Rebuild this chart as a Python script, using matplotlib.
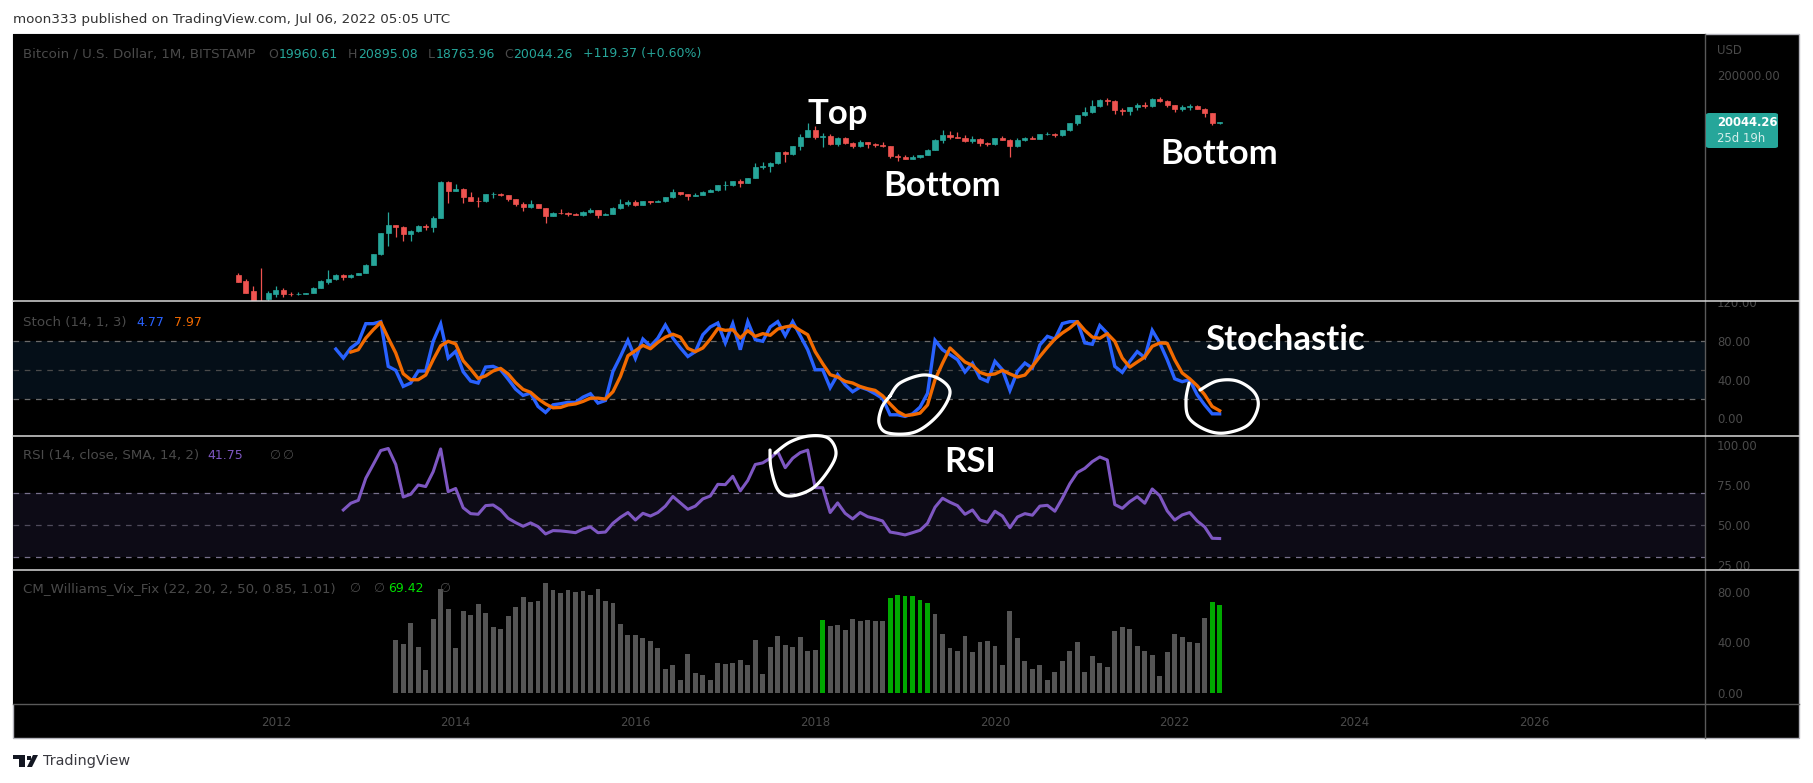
#!/bin/env python

# BTC monthly chart with Stoch / RSI / Vix Fix panes, TradingView dark look

import numpy as np
import matplotlib
matplotlib.use('Agg')
import matplotlib.pyplot as plt
from matplotlib.lines import Line2D
from matplotlib.patches import Rectangle, Polygon, FancyBboxPatch

# Data #########################################################################

# monthly candles, first bar is Aug 2011
opens = [12.4, 9.2, 5.8, 3.4, 3.8,
         5.0, 5.9, 4.9, 4.9, 5.0, 5.15, 6.7, 9.0, 10.2, 12.4, 11.0, 12.6,
         13.5, 20.4, 33.4, 93, 139, 129, 90, 106, 135, 127, 198, 1120,
         732, 800, 550, 450, 445, 630, 640, 585, 480, 388, 338, 378,
         320, 217, 254, 244, 236, 230, 263, 284, 230, 236, 314, 377,
         430, 368, 437, 416, 448, 531, 673, 624, 573, 608, 700, 745,
         966, 970, 1190, 1080, 1348, 2300, 2480, 2870, 4700, 4340, 6440, 9950,
         13800, 10100, 10300, 6930, 9240, 7490, 6400, 7730, 7010, 6620, 6300, 4020,
         3740, 3440, 3800, 4100, 5260, 8570, 10800, 10080, 9590, 8290, 9150, 7560,
         7190, 9350, 8530, 6420, 8640, 9450, 9140, 11330, 11650, 10780, 13800, 19700,
         28950, 33100, 45200, 58800, 57700, 37300, 35000, 41500, 47100, 43800, 61300, 57000,
         46200, 38500, 43200, 45500, 37700, 31800, 19960.61]
highs = [13.3, 10.1, 7.2, 17, 5.6,
         7.4, 6.7, 5.3, 5.4, 5.2, 6.8, 9.8, 16, 12.9, 13.2, 13, 13.9,
         21, 34, 95, 266, 140, 130, 110, 138, 145, 215, 1163, 1160,
         1000, 830, 700, 540, 630, 680, 660, 600, 490, 415, 460, 390,
         320, 265, 300, 262, 247, 268, 318, 285, 247, 334, 502, 465,
         462, 448, 445, 470, 545, 780, 700, 625, 660, 730, 780, 980,
         1150, 1200, 1290, 1350, 2770, 3000, 2920, 4800, 5000, 6470, 11400, 19666,
         17200, 11800, 11700, 9760, 10000, 7780, 8500, 7750, 7400, 7680, 6550, 4400,
         4060, 4200, 4140, 5630, 9090, 13880, 13200, 12330, 10900, 10370, 9500, 7750,
         9570, 10500, 9170, 9460, 10070, 10380, 11420, 12480, 12050, 14100, 19860, 29300,
         41950, 58350, 61780, 64900, 59600, 41300, 42400, 50500, 52900, 67000, 69000, 59100,
         47900, 45800, 48200, 47450, 40000, 32400, 20895.08]
lows = [8.8, 5.2, 3.0, 2.0, 2.9,
        4.2, 4.2, 4.5, 4.7, 4.9, 5.1, 6.6, 7.8, 9.7, 9.9, 10.5, 12.4,
        13.5, 19.6, 33, 50, 79, 65, 65, 100, 110, 100, 198, 411,
        730, 400, 440, 340, 420, 525, 565, 440, 350, 275, 310, 310,
        152, 212, 240, 214, 228, 218, 253, 198, 225, 235, 304, 350,
        350, 362, 390, 415, 435, 525, 600, 465, 570, 603, 680, 740,
        750, 920, 890, 1065, 1340, 2100, 1830, 2700, 2970, 4120, 5370, 9700,
        9000, 6000, 6600, 6430, 7030, 5750, 6050, 5880, 6100, 6200, 3650, 3122,
        3350, 3370, 3670, 4070, 5330, 7440, 9100, 9320, 7710, 7300, 6530, 6410,
        6850, 8400, 3850, 6150, 8110, 8900, 8950, 10950, 9820, 10370, 13200, 17600,
        28100, 32300, 43000, 47000, 30000, 28800, 29300, 37300, 39600, 43300, 53300, 42000,
        32950, 34300, 37200, 37700, 26700, 17600, 18763.96]
closes = [8.8, 5.2, 3.2, 2.6, 5.1,
          5.9, 4.9, 4.85, 5.0, 5.15, 6.7, 9.35, 10.2, 12.4, 11.0, 12.6, 13.5,
          20.4, 33.4, 93, 139, 129, 90, 106, 135, 127, 198, 1120, 732,
          800, 550, 450, 445, 630, 640, 585, 480, 388, 338, 378, 320,
          217, 254, 244, 236, 230, 263, 284, 230, 236, 314, 377, 430,
          368, 437, 416, 448, 531, 673, 624, 573, 608, 700, 745, 966,
          970, 1190, 1080, 1348, 2300, 2480, 2870, 4700, 4340, 6440, 9950, 13800,
          10100, 10300, 6930, 9240, 7490, 6400, 7730, 7010, 6620, 6300, 4020, 3740,
          3440, 3800, 4100, 5260, 8570, 10800, 10080, 9590, 8290, 9150, 7560, 7190,
          9350, 8530, 6420, 8640, 9450, 9140, 11330, 11650, 10780, 13800, 19700, 28950,
          33100, 45200, 58800, 57700, 37300, 35000, 41500, 47100, 43800, 61300, 57000, 46200,
          38500, 43200, 45500, 37700, 31800, 19925, 20044.26]

# stochastic %K starts on bar 13, %D on bar 15
stoch_k = [71.7, 62.4, 72.8, 78.6, 97.9, 97.9, 100, 53.8, 49.7, 33.1, 36.6, 49, 49, 79.7,
           97.6, 62.4, 69.3, 48.3, 38.6, 36.6, 53.1, 53.8, 50.3, 40.7, 30.3, 23.8, 26.2,
           12.4, 6.2, 14.1, 15.2, 16.6, 16.6, 22, 25.5, 15.9, 18.6, 48.6, 64, 80.7, 62, 82,
           74.5, 83, 96.5, 83, 73, 64, 69, 86.5, 94.5, 98.6, 78, 98, 71, 100, 81.4, 79.7,
           94.5, 100, 85.5, 100, 85.5, 71, 50.3, 50.3, 31.7, 45.2, 34.8, 27.6, 32.4, 29.7,
           25.5, 20.7, 3.8, 3.8, 2.1, 4.8, 11.7, 26, 80.7, 71, 65.9, 60.7, 48, 57, 41.7,
           38.3, 59, 50.3, 29, 48.6, 57.2, 52, 76, 84.8, 82, 98, 100, 100, 78, 76.6, 96, 88,
           53.8, 47.6, 59, 69, 63, 91, 78, 60.7, 41, 38, 40, 24.5, 14, 4.8, 4.77]
stoch_d = [68.6, 71, 83, 91.7, 99.3, 83, 67.6, 46.2, 40, 40, 44.8, 60.7, 75, 79.7, 77, 59.7,
           51, 41.4, 44, 49, 51.7, 46, 37, 30, 27, 20.3, 15, 11, 11.4, 14, 15, 17.6, 21, 21,
           20, 27.6, 43.4, 64.8, 70, 75.5, 72, 78.6, 84, 87, 84, 72.4, 69, 72.8, 82, 92.8,
           91, 91.7, 83, 90.7, 84.8, 87.6, 85.9, 92.4, 94.5, 95.9, 91, 86.5, 69, 56.6, 45.2,
           42.8, 38.3, 36.6, 33, 30.7, 29, 23.4, 15, 7.2, 3, 3.8, 5.5, 14, 40, 57, 72.8, 65.5,
           58.3, 54.8, 47.6, 45, 46, 49.7, 46, 42.8, 44.8, 53.8, 64, 73.4, 82, 88.3, 93.4,
           100, 91, 84, 82.8, 87.6, 79.7, 62.4, 53, 58.3, 63.4, 74.5, 78, 77.6, 60.7, 47, 41,
           33.8, 24.5, 12.4, 7.97]
# RSI starts on bar 14
rsi = [59.6, 63.8, 65.6, 79.4, 88, 96.7, 98, 88, 67.7, 69.4, 75.2, 74.2, 83.5, 97.7, 71, 73,
       61, 57.3, 56.9, 62.3, 62.7, 59.6, 54.4, 51.7, 49.4, 51.5, 49.2, 44.6, 46.7, 46.5, 46,
       45.4, 47.7, 49, 45.4, 45.8, 51.3, 55, 58, 53.3, 57.5, 55.8, 58, 62, 68, 64, 60, 62,
       66.5, 68.3, 75.6, 75.4, 80.6, 71.5, 78, 88, 89, 91.9, 96, 86, 91.9, 95.4, 97, 73.5,
       73.5, 58, 64, 57.5, 54, 58, 55.4, 54.2, 52.7, 45.8, 45, 44, 45.4, 46.9, 51.3, 61.3,
       66.9, 64.4, 62.3, 56.9, 59.6, 53.3, 51.9, 58.8, 55.8, 48.5, 55.2, 57.3, 56.3, 62,
       62.5, 58.8, 66.9, 76, 83, 85.6, 89.8, 92.7, 90.8, 63, 60.6, 64.8, 67.9, 63.8, 72.7,
       68.5, 59, 53.3, 56.5, 58, 52.7, 49, 41.9, 41.75]
# Vix Fix starts on bar 21
vix_fix = [41.8, 38.6, 55.2, 36.3, 18.1, 58.4, 82, 66.2, 35.5, 64.7, 61.5, 70.2, 63.1, 52,
           50.5, 60.7, 67.8, 75.7, 71.8, 72.6, 86.8, 81.2, 78.9, 81.2, 79.7, 80.4, 77.3, 82,
           72.6, 71, 54.4, 45.7, 45.7, 43.4, 41, 35.5, 18.9, 22, 10.3, 30.8, 15.8, 14.2, 10.3,
           23.7, 22.9, 23.7, 26, 22, 41.8, 15, 36.3, 45, 37.9, 36.3, 44.2, 33.1, 33.9, 57.6,
           52.8, 53.6, 49.7, 58.4, 56.8, 57.6, 56.8, 56.8, 74.9, 77.3, 76.5, 76.5, 73.3, 71,
           62.3, 46.5, 35.5, 33.1, 45, 32.3, 40.2, 41, 37.1, 22, 64.7, 43.4, 25.2, 18.9, 22,
           10.3, 16.6, 25.2, 33.1, 40.2, 16.6, 29.2, 23.7, 20.5, 48.9, 52, 50.5, 37.1, 33.1,
           30, 13.4, 32.3, 46.5, 44.2, 40.2, 39.4, 59.1, 71.8, 69.42]
vix_green_bars = [78, 87, 88, 89, 90, 91, 92, 130, 131]

year_ticks = [5, 29, 53, 77, 101, 125, 149, 173]
year_labels = ['2012', '2014', '2016', '2018', '2020', '2022', '2024', '2026']
price_ticks = [200000]
stoch_ticks = [0, 40, 80, 120]
rsi_ticks = [25, 50, 75, 100]
vix_ticks = [0, 40, 80]

# Style ########################################################################

W, H = 1813, 783
FONT = 'DejaVu Sans'
NOTE_FONT = 'Lato'
UP, DOWN = '#26a69a', '#ef5350'
DIM = '#4a4a4a'
plt.rcParams['font.family'] = FONT

fig = plt.figure(figsize=(W / 100, H / 100), dpi=100, facecolor='white')


def px(x, y):
    return x / W, 1 - y / H


def pane(top, bottom, ylim):
    ax = fig.add_axes([13 / W, 1 - bottom / H, (1705 - 13) / W, (bottom - top) / H])
    ax.set_facecolor('black')
    ax.set_xlim(-30.1, 195.8)
    ax.set_ylim(*ylim)
    for s in ax.spines.values():
        s.set_visible(False)
    ax.yaxis.tick_right()
    ax.tick_params(axis='y', length=0, pad=8.6, labelsize=8.4, labelcolor=DIM)
    ax.set_xticks([])
    return ax


def hline(y, color, x0=13, x1=1799, lw=1.0):
    fig.add_artist(Line2D([x0 / W, x1 / W], [1 - y / H] * 2, color=color, lw=lw, zorder=20))


def label(x, y, s, color=DIM, size=9.6, **kw):
    fig.text(x / W, 1 - y / H, s, color=color, fontsize=size, va='center', ha='left', zorder=30, **kw)


def freehand(points, lw=2.3):
    # smooth hand drawn loop through the given pixel points (catmull-rom)
    p = np.array(points, dtype=float)
    t = np.linspace(0, 1, 12, endpoint=False)[:, None]
    curve = []
    for i in range(len(p) - 1):
        p0, p1, p2, p3 = p[max(i - 1, 0)], p[i], p[i + 1], p[min(i + 2, len(p) - 1)]
        curve.append(0.5 * (2 * p1 + (p2 - p0) * t + (2 * p0 - 5 * p1 + 4 * p2 - p3) * t**2
                            + (3 * p1 - p0 - 3 * p2 + p3) * t**3))
    curve.append(p[-1:])
    curve = np.vstack(curve)
    fig.add_artist(Line2D(curve[:, 0] / W, 1 - curve[:, 1] / H, color='white', lw=lw, zorder=25,
                          solid_capstyle='round'))


# black panel behind everything
fig.add_artist(Rectangle(px(13, 738), (1799 - 13) / W, (738 - 34) / H, facecolor='black',
                         edgecolor='#b4b4bc', lw=1.0, transform=fig.transFigure, zorder=-1))

# Price pane ###################################################################

ax_price = pane(34, 301, (3.5, 1.46e6))
ax_price.set_yscale('log')
ax_price.set_yticks(price_ticks)
ax_price.set_yticklabels(['%.2f' % v for v in price_ticks])
ax_price.minorticks_off()

bars = np.arange(len(closes))
o, h, l, c = map(np.array, (opens, highs, lows, closes))
colors = [UP if b >= a else DOWN for a, b in zip(o, c)]
ax_price.vlines(bars, l, h, colors=colors, lw=0.9)
ax_price.bar(bars, np.abs(c - o), bottom=np.minimum(o, c), width=0.68, color=colors,
             edgecolor=colors, linewidth=0.5)

# Stoch pane ###################################################################

ax_stoch = pane(301.5, 435.5, (-17.6, 120.8))
ax_stoch.axhspan(20, 80, color='#050f18', lw=0)
for v in (20, 50, 80):
    ax_stoch.axhline(v, color='#6a6a6a' if v != 50 else '#4a4a4a', lw=0.9, dashes=(4.5, 4.5))
ax_stoch.plot(13 + np.arange(len(stoch_k)), stoch_k, color='#2962ff', lw=2.4, solid_joinstyle='miter')
ax_stoch.plot(15 + np.arange(len(stoch_d)), stoch_d, color='#f26a00', lw=2.4)
ax_stoch.set_yticks(stoch_ticks)
ax_stoch.set_yticklabels(['%.2f' % v for v in stoch_ticks])

# RSI pane #####################################################################

ax_rsi = pane(435.5, 569.5, (22.4, 106.1))
ax_rsi.axhspan(30, 70, color='#0d0b16', lw=0)
for v in (30, 50, 70):
    ax_rsi.axhline(v, color='#77708c' if v != 50 else '#4f4b5c', lw=0.9, dashes=(4.5, 4.5))
ax_rsi.plot(14 + np.arange(len(rsi)), rsi, color='#7e57c2', lw=2.2)
ax_rsi.set_yticks(rsi_ticks)
ax_rsi.set_yticklabels(['%.2f' % v for v in rsi_ticks])

# Vix Fix pane #################################################################

ax_vix = pane(569.5, 704, (-8.7, 97.4))
vix_bars = 21 + np.arange(len(vix_fix))
ax_vix.bar(vix_bars, vix_fix, width=0.65,
           color=['#00a800' if b in vix_green_bars else '#555555' for b in vix_bars])
ax_vix.set_yticks(vix_ticks)
ax_vix.set_yticklabels(['%.2f' % v for v in vix_ticks])
ax_vix.set_xticks(year_ticks)
ax_vix.set_xticklabels(year_labels)
ax_vix.tick_params(axis='x', length=0, pad=8.5, labelsize=8.6, labelcolor=DIM)

# Separators, price tag ########################################################

fig.add_artist(Rectangle(px(1706, 301), 92 / W, 9 / H, facecolor='black', edgecolor='none',
                         transform=fig.transFigure, zorder=15))
for y in (301, 435.5, 569.5):
    hline(y, '#d8d8d8', lw=1.1)
hline(704, '#5a5a5a')
fig.add_artist(Line2D([1705 / W] * 2, [1 - 34 / H, 1 - 738 / H], color='#5a5a5a', lw=1.0, zorder=19))

label(1717, 50, 'USD', size=8.4)
fig.add_artist(FancyBboxPatch(px(1706, 148), 72 / W, 35 / H, boxstyle='round,pad=0,rounding_size=0.002',
                              facecolor=UP, edgecolor='none', transform=fig.transFigure, zorder=21))
label(1717, 123, '20044.26', color='white', size=8.4, fontweight='bold')
label(1717, 139, '25d 19h', color='#d4eeeb', size=8.4)

# Legends ######################################################################

NUM = 9.0
label(13, 20, 'moon333 published on TradingView.com, Jul 06, 2022 05:05 UTC', color='#333333', size=9.7)

label(23, 54, 'Bitcoin / U.S. Dollar, 1M, BITSTAMP')
for x, head, x2, val in ((268, 'O', 279, '19960.61'), (348, 'H', 358, '20895.08'),
                         (428, 'L', 436, '18763.96'), (504, 'C', 513, '20044.26')):
    label(x, 54, head, size=NUM)
    label(x2, 54, val, color=UP, size=NUM)
label(583, 54, '+119.37 (+0.60%)', color=UP, size=NUM)

label(23, 322, 'Stoch (14, 1, 3)')
label(136, 322, '4.77', color='#2962ff', size=NUM)
label(174, 322, '7.97', color='#f26a00', size=NUM)

label(23, 455.5, 'RSI (14, close, SMA, 14, 2)')
label(207, 455.5, '41.75', color='#7e57c2', size=NUM)
label(269, 455.5, '∅', size=NUM)
label(282, 455.5, '∅', size=NUM)

label(23, 588.5, 'CM_Williams_Vix_Fix (22, 20, 2, 50, 0.85, 1.01)')
label(349, 588.5, '∅', size=NUM)
label(373, 588.5, '∅', size=NUM)
label(388, 588.5, '69.42', color='#00e000', size=NUM)
label(439, 588.5, '∅', size=NUM)

# Hand written notes ###########################################################

for x, y, s in ((807, 124, 'Top'), (883, 196.5, 'Bottom'), (1160, 164, 'Bottom'),
                (1205, 350, 'Stochastic'), (944, 472, 'RSI')):
    fig.text(x / W, 1 - y / H, s, color='white', fontsize=25, fontweight='bold',
             family=NOTE_FONT, ha='left', va='baseline', zorder=26)

# zoomed pixel readings of the drawn loops
freehand([(890, 396), (900, 383), (923, 375), (941, 380), (950, 393), (938, 415), (915, 432),
          (888, 433), (879, 423), (882, 407), (890, 396)])
freehand([(1189, 383), (1186, 400), (1189, 418), (1206, 430), (1225, 433), (1248, 425), (1258, 407),
          (1254, 392), (1237, 381), (1217, 381), (1200, 390)])
freehand([(770, 450), (771, 468), (778, 490), (791, 496), (813, 488), (830, 468), (836, 452),
          (828, 438), (809, 436), (790, 442), (775, 453)])

# TradingView logo in the footer
ink = '#131722'
for pts in ([(12.7, 755), (25, 755), (25, 767), (19, 767), (19, 759), (12.7, 759)],
            [(27, 767), (33, 755), (38, 755), (32, 767)]):
    fig.add_artist(Polygon([px(*q) for q in pts], closed=True, facecolor=ink, edgecolor='none',
                           transform=fig.transFigure))
fig.add_artist(Rectangle(px(26.5, 759.5), 4 / W, 4 / H, facecolor=ink, edgecolor='none',
                         transform=fig.transFigure))
label(43, 761, 'TradingView', color='#3a3a40', size=10.4)

fig.savefig('out.png', dpi=100, facecolor='white')
